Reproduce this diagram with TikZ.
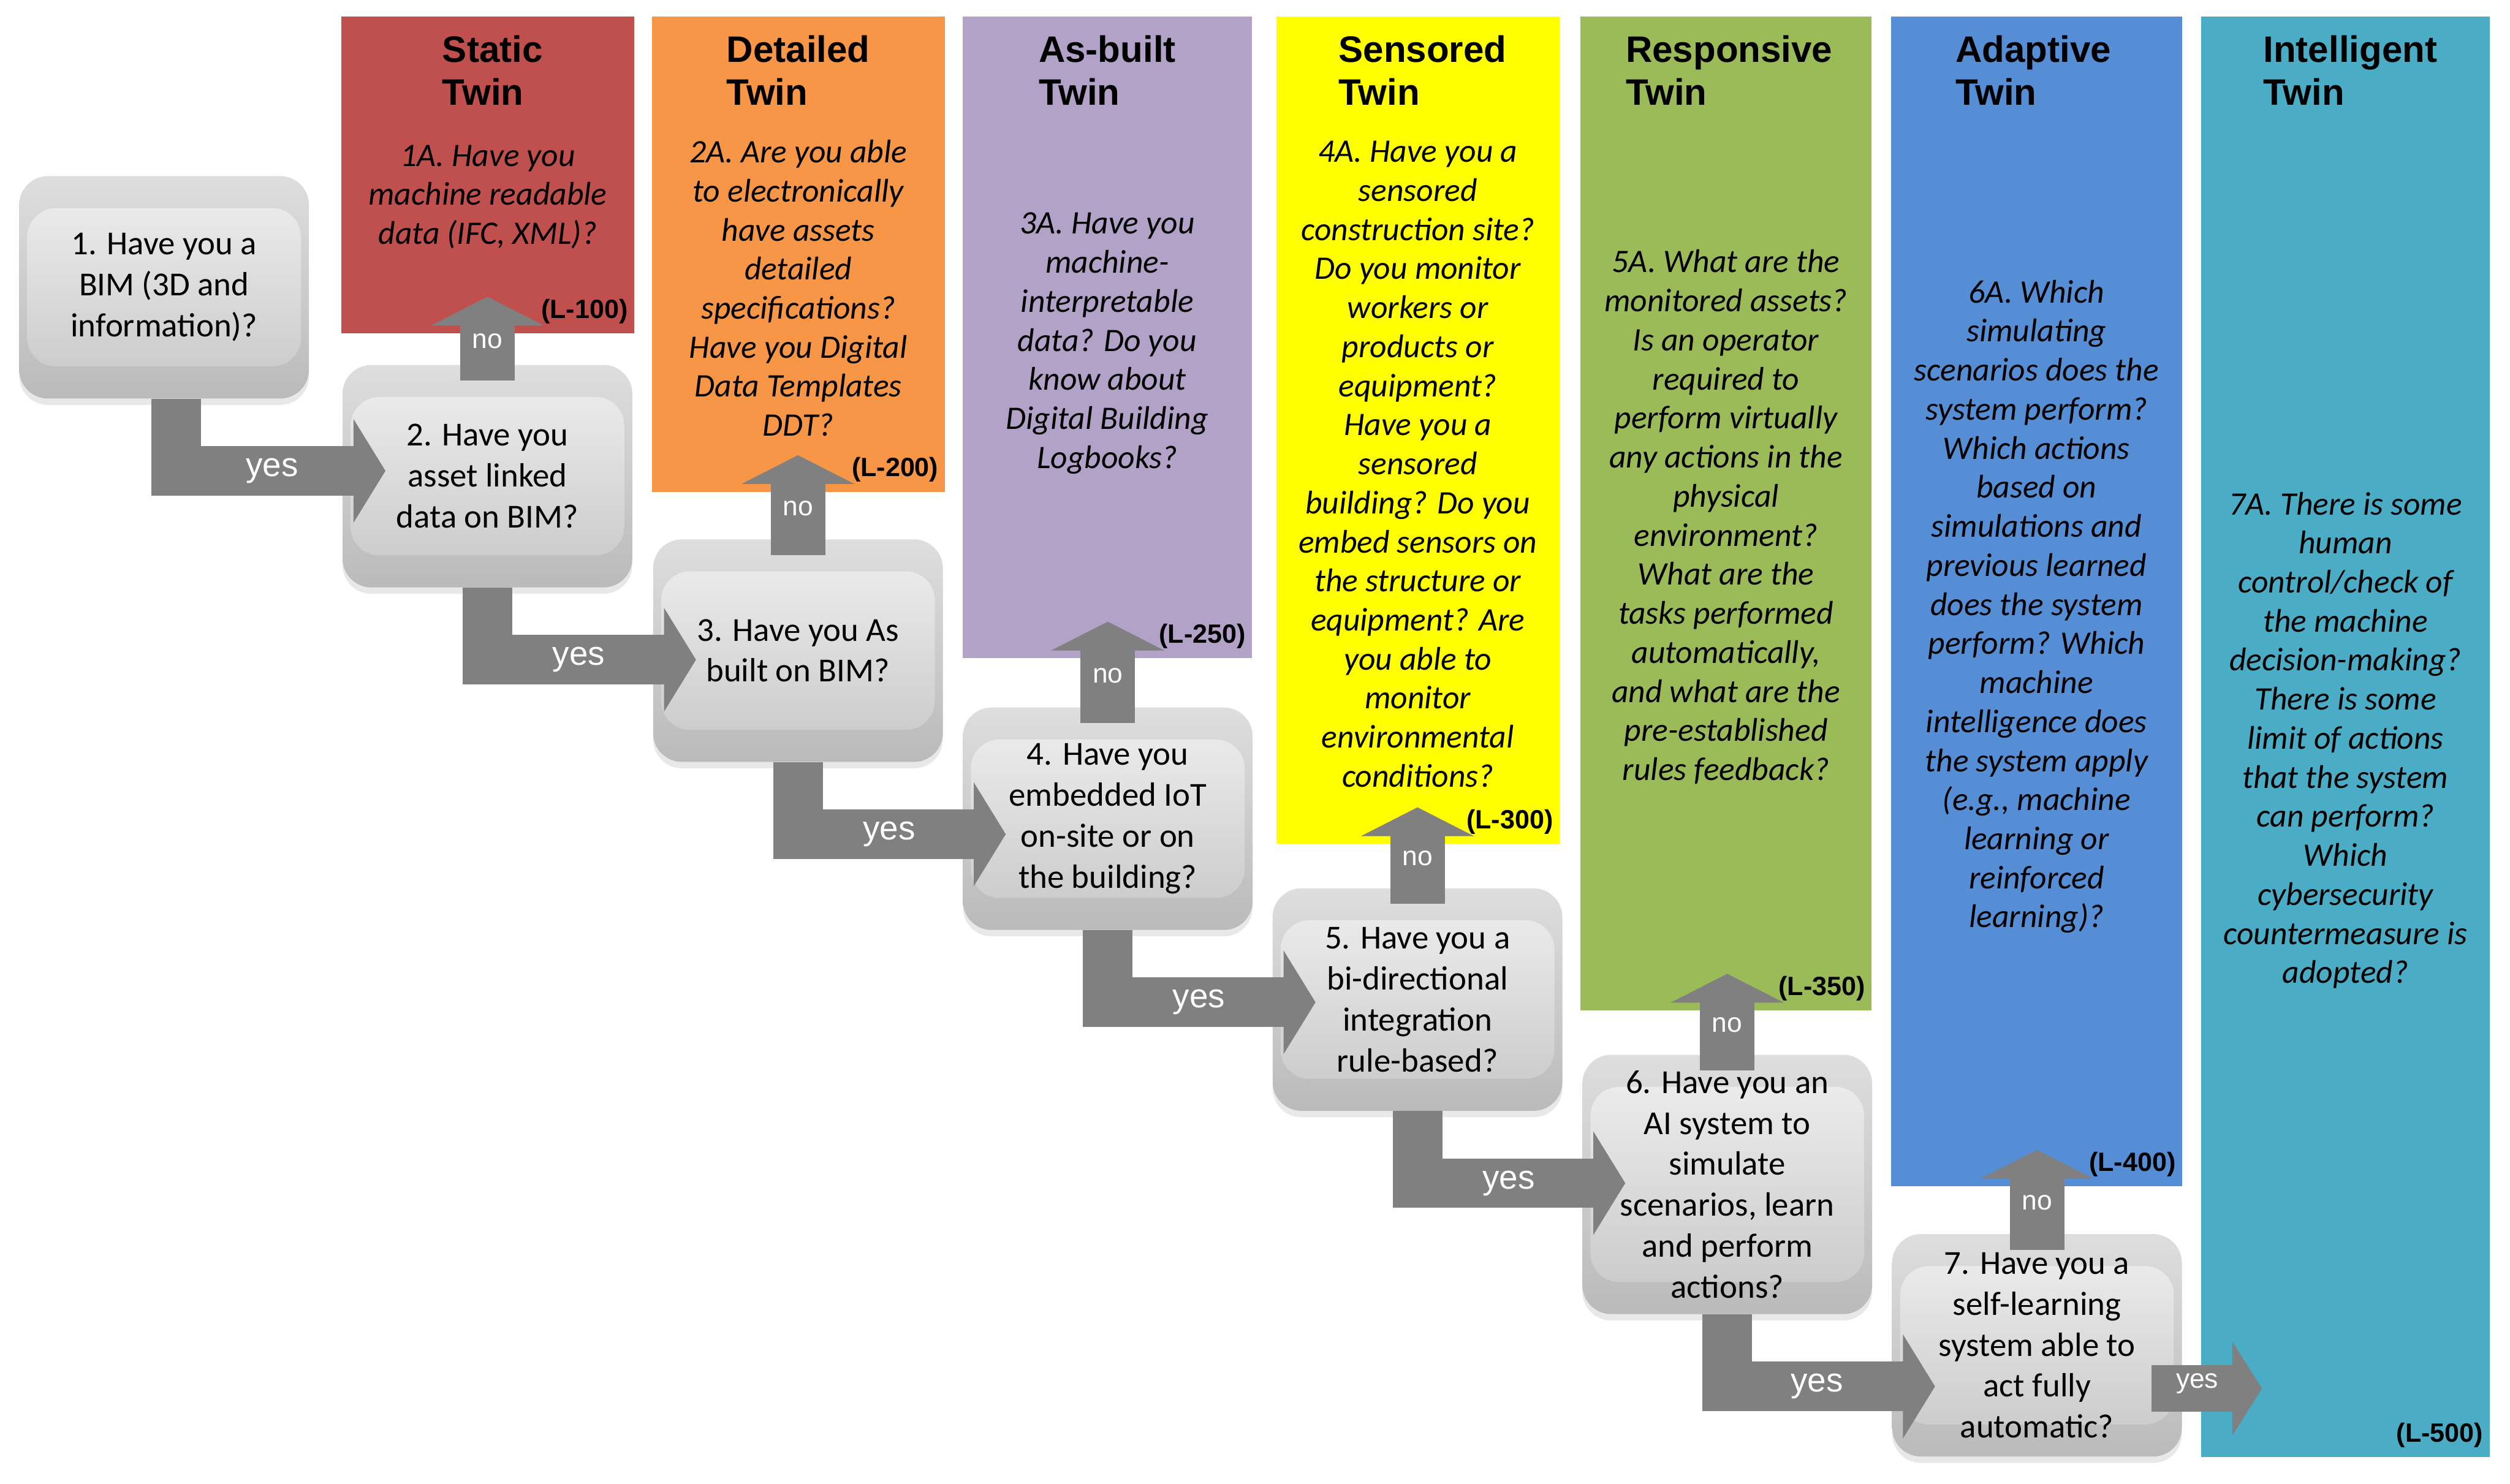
\documentclass[tikz,border=0pt]{standalone}
\usepackage{fontspec}
\setmainfont{Carlito}
\newfontfamily\arialfont{Liberation Sans}
\usetikzlibrary{positioning,arrows.meta,shadows,calc}

\definecolor{staticred}{HTML}{C0504D}
\definecolor{detailorange}{HTML}{F79646}
\definecolor{asbuiltlilac}{HTML}{B3A2C7}
\definecolor{sensoryellow}{HTML}{FFFF00}
\definecolor{responsgreen}{HTML}{9BBB59}
\definecolor{adaptblue}{HTML}{558ED5}
\definecolor{intelteal}{HTML}{4BACC6}
\definecolor{arrowgray}{HTML}{808080}

\tikzset{
  twincol/.style={rectangle, anchor=north west, inner sep=0pt},
  twinhead/.style={align=left, inner sep=0pt, font=\arialfont\bfseries\fontsize{23}{27}\selectfont},
  twindesc/.style={align=center, inner sep=0pt, font=\itshape\fontsize{20.5}{24.4}\selectfont},
  levlab/.style={anchor=south east, inner sep=0pt, font=\arialfont\bfseries\fontsize{16.5}{18}\selectfont},
  qbox/.style={
    rectangle, rounded corners=18pt, align=center,
    minimum width=181pt, minimum height=139pt, inner sep=0pt,
    top color=black!13, bottom color=black!27,
    drop shadow={opacity=.18, shadow xshift=0pt, shadow yshift=-4pt},
    path picture={
      \shade[top color=black!6, bottom color=black!22]
        ([xshift=5pt,yshift=-20pt]path picture bounding box.north west)
        rectangle ([xshift=-5pt,yshift=20pt]path picture bounding box.south east);
    },
    font=\fontsize{21}{25.6}\selectfont
  },
  yesarrow/.style={draw=arrowgray, line width=31pt, line join=miter,
    -{Triangle[width=64pt,length=20pt]}},
  noarrow/.style={draw=arrowgray, line width=34pt,
    -{Triangle[width=70pt,length=18pt]}},
  yeslab/.style={inner sep=0pt, text=white, font=\arialfont\fontsize{21}{21}\selectfont},
  nolab/.style={inner sep=0pt, text=white, font=\arialfont\fontsize{17}{17}\selectfont}
}

\begin{document}
\begin{tikzpicture}[x=1pt, y=-1pt]
\useasboundingbox (0,0) rectangle (1568,927);

\node[twincol, fill=staticred, minimum width=183pt, minimum height=198pt] (col1) at (213,10) {};
\node[twincol, fill=detailorange, minimum width=183pt, minimum height=297pt] (col2) at (407,10) {};
\node[twincol, fill=asbuiltlilac, minimum width=181pt, minimum height=401pt] (col3) at (601,10) {};
\node[twincol, fill=sensoryellow, minimum width=177pt, minimum height=517pt] (col4) at (797,10) {};
\node[twincol, fill=responsgreen, minimum width=182pt, minimum height=621pt] (col5) at (987,10) {};
\node[twincol, fill=adaptblue, minimum width=182pt, minimum height=731pt] (col6) at (1181,10) {};
\node[twincol, fill=intelteal, minimum width=180pt, minimum height=900pt] (col7) at (1375,10) {};

\node[twinhead] (h1) at ([xshift=3pt,yshift=-34pt]col1.north) {Static\\Twin};
\node[twinhead] (h2) at ([yshift=-34pt]col2.north) {Detailed\\Twin};
\node[twinhead] (h3) at ([yshift=-34pt]col3.north) {As-built\\Twin};
\node[twinhead] (h4) at ([xshift=3pt,yshift=-34pt]col4.north) {Sensored\\Twin};
\node[twinhead] (h5) at ([xshift=2pt,yshift=-34pt]col5.north) {Responsive\\Twin};
\node[twinhead] (h6) at ([xshift=-2pt,yshift=-34pt]col6.north) {Adaptive\\Twin};
\node[twinhead] (h7) at ([xshift=3pt,yshift=-34pt]col7.north) {Intelligent\\Twin};

\node[twindesc] (d1) at ([yshift=-113pt]col1.north) {1A. Have you\\machine readable\\data (IFC, XML)?};
\node[twindesc] (d2) at ([yshift=-170pt]col2.north) {2A. Are you able\\to electronically\\have assets\\detailed\\specifications?\\Have you Digital\\Data Templates\\DDT?};
\node[twindesc] (d3) at ([yshift=-204.5pt]col3.north) {3A. Have you\\machine-\\interpretable\\data? Do you\\know about\\Digital Building\\Logbooks?};
\node[twindesc] (d4) at ([yshift=-280pt]col4.north) {4A. Have you a\\sensored\\construction site?\\Do you monitor\\workers or\\products or\\equipment?\\Have you a\\sensored\\building? Do you\\embed sensors on\\the structure or\\equipment? Are\\you able to\\monitor\\environmental\\conditions?};
\node[twindesc] (d5) at ([yshift=-313pt]col5.north) {5A. What are the\\monitored assets?\\Is an operator\\required to\\perform virtually\\any actions in the\\physical\\environment?\\What are the\\tasks performed\\automatically,\\and what are the\\pre-established\\rules feedback?};
\node[twindesc] (d6) at ([yshift=-369pt]col6.north) {6A. Which\\simulating\\scenarios does the\\system perform?\\Which actions\\based on\\simulations and\\previous learned\\does the system\\perform? Which\\machine\\intelligence does\\the system apply\\(e.g., machine\\learning or\\reinforced\\learning)?};
\node[twindesc] (d7) at ([yshift=-452.5pt]col7.north) {7A. There is some\\human\\control/check of\\the machine\\decision-making?\\There is some\\limit of actions\\that the system\\can perform?\\Which\\cybersecurity\\countermeasure is\\adopted?};

\node[qbox] (q1) at (102.5,179.5) {1. Have you a\\BIM (3D and\\information)?};
\node[qbox] (q2) at (304.5,297.5) {2. Have you\\asset linked\\data on BIM?};
\node[qbox] (q3) at (498.5,406.5) {3. Have you As\\built on BIM?};
\node[qbox] (q4) at (692,511.5) {4. Have you\\embedded IoT\\on-site or on\\the building?};
\node[qbox] (q5) at (885.5,624.5) {5. Have you a\\bi-directional\\integration\\rule-based?};
\node[qbox, minimum height=162pt] (q6) at (1079,740) {6. Have you an\\AI system to\\simulate\\scenarios, learn\\and perform\\actions?};
\node[qbox] (q7) at (1272.5,840.5) {7. Have you a\\self-learning\\system able to\\act fully\\automatic?};

\draw[yesarrow] ([xshift=7.5pt]q1.south) |- ($(q2.west |- q1.south)+(27,45)$) node[yeslab, pos=.5, xshift=60pt] (y1) {yes};
\draw[yesarrow] (q2.south) |- ($(q3.west |- q2.south)+(27,45)$) node[yeslab, pos=.5, xshift=57pt] (y2) {yes};
\draw[yesarrow] (q3.south) |- ($(q4.west |- q3.south)+(27,45)$) node[yeslab, pos=.5, xshift=57pt] (y3) {yes};
\draw[yesarrow] (q4.south) |- ($(q5.west |- q4.south)+(27,45)$) node[yeslab, pos=.5, xshift=57pt] (y4) {yes};
\draw[yesarrow] (q5.south) |- ($(q6.west |- q5.south)+(27,45)$) node[yeslab, pos=.5, xshift=57pt] (y5) {yes};
\draw[yesarrow] (q6.south) |- ($(q7.west |- q6.south)+(27,45)$) node[yeslab, pos=.5, xshift=56pt] (y6) {yes};
\draw[yesarrow, line width=29pt, -{Triangle[width=58pt,length=18.5pt]}] ($(q7.east)+(-19,27)$) -- ($(col7.west |- q7.east)+(38,27)$) node[nolab, midway, xshift=-6pt, yshift=3pt] (y7) {yes};

\draw[noarrow] ([yshift=-10pt]q2.north) -- ($(q2.north |- col1.south)+(0,-23)$) node[nolab, pos=.47] (n1) {no};
\draw[noarrow] ([yshift=-10pt]q3.north) -- ($(q3.north |- col2.south)+(0,-23)$) node[nolab, pos=.47] (n2) {no};
\draw[noarrow] ([yshift=-10pt]q4.north) -- ($(q4.north |- col3.south)+(0,-23)$) node[nolab, pos=.47] (n3) {no};
\draw[noarrow] ([yshift=-10pt]q5.north) -- ($(q5.north |- col4.south)+(0,-23)$) node[nolab, pos=.47] (n4) {no};
\draw[noarrow] ([yshift=-10pt]q6.north) -- ($(q6.north |- col5.south)+(0,-23)$) node[nolab, pos=.47] (n5) {no};
\draw[noarrow] ([yshift=-10pt]q7.north) -- ($(q7.north |- col6.south)+(0,-23)$) node[nolab, pos=.47] (n6) {no};

\node[levlab] (l1) at ([xshift=-4pt,yshift=6pt]col1.south east) {(L-100)};
\node[levlab] (l2) at ([xshift=-4pt,yshift=6pt]col2.south east) {(L-200)};
\node[levlab] (l3) at ([xshift=-4pt,yshift=6pt]col3.south east) {(L-250)};
\node[levlab] (l4) at ([xshift=-4pt,yshift=6pt]col4.south east) {(L-300)};
\node[levlab] (l5) at ([xshift=-4pt,yshift=6pt]col5.south east) {(L-350)};
\node[levlab] (l6) at ([xshift=-4pt,yshift=6pt]col6.south east) {(L-400)};
\node[levlab] (l7) at ([xshift=-4pt,yshift=6pt]col7.south east) {(L-500)};
\end{tikzpicture}
\end{document}
